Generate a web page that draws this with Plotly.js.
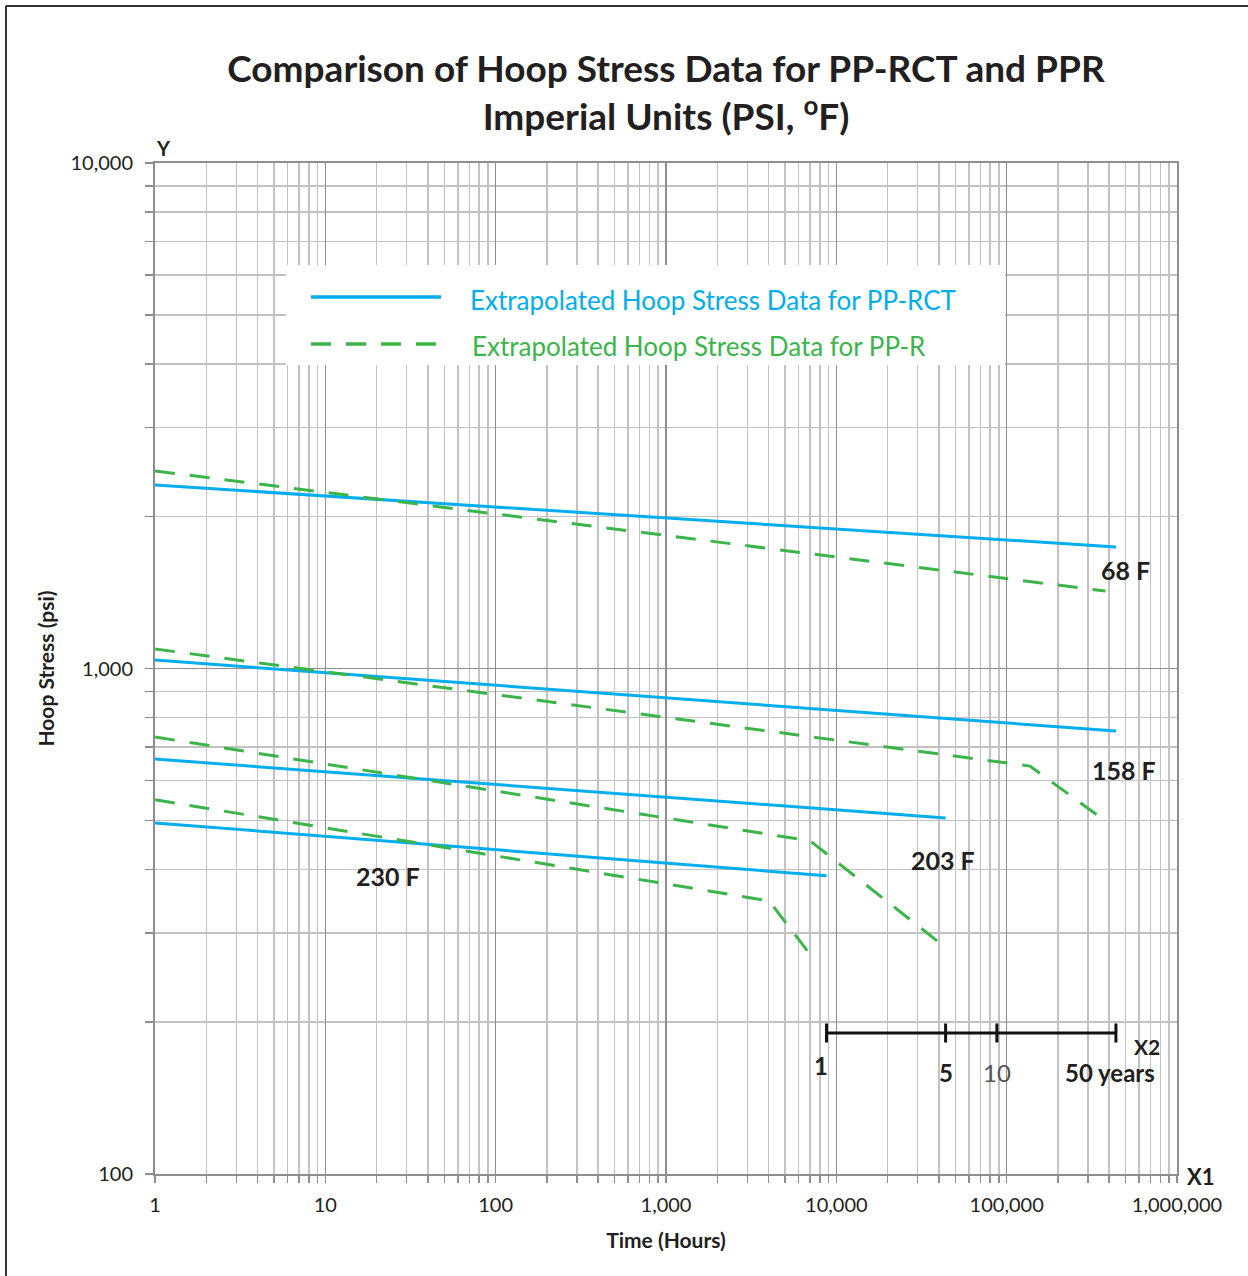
<!DOCTYPE html>
<html><head><meta charset="utf-8">
<script src="https://cdn.plot.ly/plotly-3.0.1.min.js"></script>
<style>html,body{margin:0;padding:0;background:#fff}#chart{width:1248px;height:1276px}</style>
</head><body><div id="chart"></div>
<script>
// ---- data (hours, psi) ----
const hours68RCT = [1, 438000];
const stress68RCT = [2307, 1739];
const hours68PPR = [1, 380000];
const stress68PPR = [2460, 1423];

const hours158RCT = [1, 438000];
const stress158RCT = [1039, 752];
const hours158PPR = [1, 137000, 394000];
const stress158PPR = [1093, 641, 495];

const hours203RCT = [1, 43800];
const stress203RCT = [662, 506];
const hours203PPR = [1, 7020, 43500];
const stress203PPR = [732, 456, 281];

const hours230RCT = [1, 8760];
const stress230RCT = [495, 389];
const hours230PPR = [1, 4030, 7310];
const stress230PPR = [550, 347, 267];

const tempLabels = ['68 F', '158 F', '203 F', '230 F'];
const yearMarks = [1, 5, 10, 50];
const yearLabels = ['1', '5', '10', '50 years'];
const HOURS_PER_YEAR = 8760;

const BLUE = '#00aeef', GREEN = '#3bb54a', INK = '#231f20';
const FONT = 'Lato, "Open Sans", sans-serif';

function rct(x, y, n) { return {x: x, y: y, type: 'scatter', mode: 'lines', name: 'PP-RCT ' + n, showlegend: false, hoverinfo: 'x+y',
  line: {color: BLUE, width: 3}}; }
function ppr(x, y, n) { return {x: x, y: y, type: 'scatter', mode: 'lines', name: 'PP-R ' + n, showlegend: false, hoverinfo: 'x+y',
  line: {color: GREEN, width: 3, dash: '20px,15px'}}; }

const x2Hours = yearMarks.map(v => v * HOURS_PER_YEAR);
const tickX = [], tickY = [];
x2Hours.forEach(h => { tickX.push(h, h, null); tickY.push(182, 198.5, null); });

const traces = [
  rct(hours68RCT, stress68RCT, tempLabels[0]), ppr(hours68PPR, stress68PPR, tempLabels[0]),
  rct(hours158RCT, stress158RCT, tempLabels[1]), ppr(hours158PPR, stress158PPR, tempLabels[1]),
  rct(hours203RCT, stress203RCT, tempLabels[2]), ppr(hours203PPR, stress203PPR, tempLabels[2]),
  rct(hours230RCT, stress230RCT, tempLabels[3]), ppr(hours230PPR, stress230PPR, tempLabels[3]),
  {x: [x2Hours[0], x2Hours[x2Hours.length - 1]], y: [190, 190], type: 'scatter', mode: 'lines', showlegend: false,
   hoverinfo: 'skip', line: {color: '#111', width: 3}},
  {x: tickX, y: tickY, type: 'scatter', mode: 'lines', showlegend: false, hoverinfo: 'skip', line: {color: '#111', width: 3}}
];

// plot area geometry in px for paper conversions
const L = 155, R = 1177, T = 163, B = 1174;
const px = v => (v - L) / (R - L);
const py = v => (B - v) / (B - T);

const labelPos = [[1125, 570], [1124, 770], [943, 860], [388, 876]];
const annotations = tempLabels.map((t, i) => ({xref: 'paper', yref: 'paper', x: px(labelPos[i][0]), y: py(labelPos[i][1]),
  showarrow: false, xanchor: 'center', yanchor: 'middle', text: '<b>' + t + '</b>',
  font: {family: FONT, size: 25, color: INK}}));

// legend (manual, long samples)
annotations.push({xref: 'paper', yref: 'paper', x: px(468), y: py(300), xanchor: 'left', yanchor: 'middle', showarrow: false,
  text: 'Extrapolated Hoop Stress Data for PP-RCT', font: {family: FONT, size: 26, color: BLUE}});
annotations.push({xref: 'paper', yref: 'paper', x: px(470), y: py(346), xanchor: 'left', yanchor: 'middle', showarrow: false,
  text: 'Extrapolated Hoop Stress Data for PP-R', font: {family: FONT, size: 26, color: GREEN}});

// X2 labels
yearLabels.forEach((t, i) => {
  const bold = i !== 2;
  annotations.push({xref: 'x', yref: 'paper', x: Math.log10(x2Hours[i]), y: i === 0 ? py(1065) : py(1072),
    xanchor: 'center', yanchor: 'middle', showarrow: false, xshift: i === 0 ? -6 : (i === 3 ? -6 : 0),
    text: bold ? '<b>' + t + '</b>' : t, font: {family: FONT, size: 24, color: bold ? INK : '#555'}});
});
annotations.push({xref: 'paper', yref: 'paper', x: px(1147), y: py(1046), xanchor: 'center', yanchor: 'middle', showarrow: false,
  text: '<b>X2</b>', font: {family: FONT, size: 21, color: INK}});
annotations.push({xref: 'paper', yref: 'paper', x: px(163), y: py(148), xanchor: 'center', yanchor: 'middle', showarrow: false,
  text: '<b>Y</b>', font: {family: FONT, size: 20, color: INK}});
annotations.push({xref: 'paper', yref: 'paper', x: px(1201), y: py(1176), xanchor: 'center', yanchor: 'middle', showarrow: false,
  text: '<b>X1</b>', font: {family: FONT, size: 22, color: INK}});

const shapes = [
  // legend box
  {type: 'rect', xref: 'paper', yref: 'paper', x0: px(286), x1: px(1005), y0: py(365), y1: py(265),
   fillcolor: '#ffffff', line: {width: 0}, layer: 'above'},
  {type: 'line', xref: 'paper', yref: 'paper', x0: px(311), x1: px(441), y0: py(297), y1: py(297),
   line: {color: BLUE, width: 3.5}, layer: 'above'},
  {type: 'line', xref: 'paper', yref: 'paper', x0: px(311), x1: px(441), y0: py(344), y1: py(344),
   line: {color: GREEN, width: 3.5, dash: '20px,15px'}, layer: 'above'},
  // outer frame (left and top)
  {type: 'line', xref: 'paper', yref: 'paper', x0: px(6), x1: px(6), y0: py(1290), y1: py(6),
   line: {color: '#333', width: 2}, layer: 'above'},
  {type: 'line', xref: 'paper', yref: 'paper', x0: px(6), x1: px(1260), y0: py(6), y1: py(6),
   line: {color: '#333', width: 2}, layer: 'above'}
];

const axisCommon = {
  type: 'log', showgrid: true, gridcolor: '#8e8e8e', gridwidth: 1.5,
  showline: true, linecolor: '#8e8e8e', linewidth: 2, mirror: true,
  ticks: 'outside', tickcolor: '#8e8e8e', tickwidth: 1.5, zeroline: false,
  dtick: 1, tickformat: ',d', tickfont: {family: FONT, size: 20, color: INK},
  minor: {dtick: 'D1', showgrid: true, gridcolor: '#c2c2c2', gridwidth: 1.5, ticks: 'outside', tickcolor: '#8e8e8e', tickwidth: 1.5}
};

const layout = {
  width: 1248, height: 1276,
  margin: {l: L, r: 1248 - R, t: T, b: 1276 - B},
  paper_bgcolor: '#fff', plot_bgcolor: '#fff',
  showlegend: false,
  title: {text: '<b>Comparison of Hoop Stress Data for PP-RCT and PPR<br>Imperial Units (PSI, <sup>o</sup>F)</b>',
    font: {family: FONT, size: 37, color: INK}, x: 0.5, xref: 'paper', xanchor: 'center',
    y: 1 - 82 / 1276, yref: 'container', yanchor: 'middle'},
  xaxis: Object.assign({}, axisCommon, {range: [0, 6], ticklen: 7, ticklabelstandoff: 5,
    minor: Object.assign({}, axisCommon.minor, {ticklen: 7}),
    title: {text: '<b>Time (Hours)</b>', font: {family: FONT, size: 21, color: INK}, standoff: 18}}),
  yaxis: Object.assign({}, axisCommon, {range: [2, 4], ticklen: 8, ticklabelstandoff: 8,
    minor: Object.assign({}, axisCommon.minor, {ticklen: 8}),
    title: {text: '<b>Hoop Stress (psi)</b>', font: {family: FONT, size: 21, color: INK}, standoff: 10}}),
  annotations: annotations,
  shapes: shapes
};

Plotly.newPlot('chart', traces, layout, {displayModeBar: false, staticPlot: true});
</script></body></html>
